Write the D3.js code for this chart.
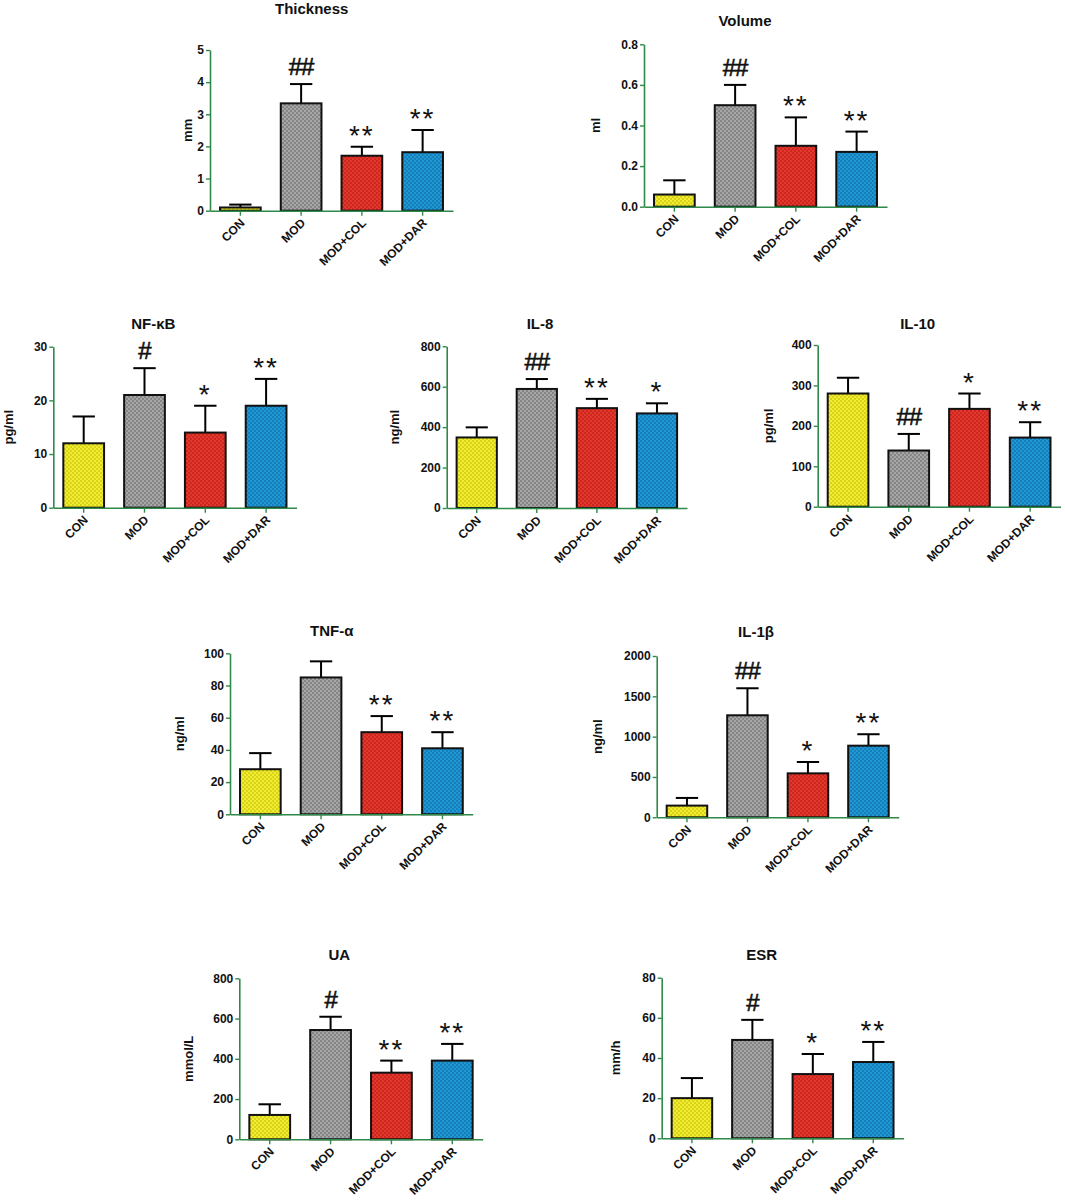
<!DOCTYPE html>
<html>
<head>
<meta charset="utf-8">
<script src="https://cdn.jsdelivr.net/npm/d3@7"></script>
<style>
  html, body { margin: 0; padding: 0; background: #fff; }
  svg { display: block; font-family: "Liberation Sans", Arial, sans-serif; }
</style>
</head>
<body>
<div id="chart"></div>
<script>
// groups shared by every panel
const GROUPS = ['CON', 'MOD', 'MOD+COL', 'MOD+DAR'];

// per-panel data: mean, upper error (mean + SD), significance marks
const thicknessMean = [0.1, 3.34, 1.71, 1.82];
const thicknessErr  = [0.19, 3.94, 1.99, 2.51];
const thicknessSig  = ['', '##', '**', '**'];

const volumeMean = [0.06, 0.50, 0.30, 0.27];
const volumeErr  = [0.13, 0.60, 0.44, 0.37];
const volumeSig  = ['', '##', '**', '**'];

const nfkbMean = [12, 21, 14, 19];
const nfkbErr  = [17, 26, 19, 24];
const nfkbSig  = ['', '#', '*', '**'];

const il8Mean = [349, 589, 494, 468];
const il8Err  = [399, 638, 540, 518];
const il8Sig  = ['', '##', '**', '*'];

const il10Mean = [280, 139, 242, 171];
const il10Err  = [319, 180, 280, 209];
const il10Sig  = ['', '##', '*', '**'];

const tnfMean = [28, 85, 51, 41];
const tnfErr  = [38, 95, 61, 51];
const tnfSig  = ['', '', '**', '**'];

const il1bMean = [145, 1265, 545, 888];
const il1bErr  = [240, 1600, 686, 1030];
const il1bSig  = ['', '##', '*', '**'];

const uaMean = [121, 543, 331, 391];
const uaErr  = [174, 609, 391, 474];
const uaSig  = ['', '#', '**', '**'];

const esrMean = [20, 49, 32, 38];
const esrErr  = [30, 59, 42, 48];
const esrSig  = ['', '#', '*', '**'];

// axis ticks
const thicknessTicks = [0, 1, 2, 3, 4, 5];
const volumeTicks    = [0, 0.2, 0.4, 0.6, 0.8];
const nfkbTicks      = [0, 10, 20, 30];
const il8Ticks       = [0, 200, 400, 600, 800];
const il10Ticks      = [0, 100, 200, 300, 400];
const tnfTicks       = [0, 20, 40, 60, 80, 100];
const il1bTicks      = [0, 500, 1000, 1500, 2000];
const uaTicks        = [0, 200, 400, 600, 800];
const esrTicks       = [0, 20, 40, 60, 80];

const panels = [
  { title: 'Thickness', unit: 'mm',     mean: thicknessMean, err: thicknessErr, sig: thicknessSig, ticks: thicknessTicks, fmt: d3.format('d'),
    box: { left: 210, right: 453, top: 50, base: 210.7, tx: 311.7, ty: 14, lx: 187 } },
  { title: 'Volume',    unit: 'ml',     mean: volumeMean,    err: volumeErr,    sig: volumeSig,    ticks: volumeTicks,    fmt: d3.format('.1f'),
    box: { left: 644, right: 887, top: 44.3, base: 206.7, tx: 745, ty: 26, lx: 595 } },
  { title: 'NF-κB',     unit: 'pg/ml',  mean: nfkbMean,      err: nfkbErr,      sig: nfkbSig,      ticks: nfkbTicks,      fmt: d3.format('d'),
    box: { left: 53.3, right: 296.5, top: 346.7, base: 507.7, tx: 153.3, ty: 329, lx: 8 } },
  { title: 'IL-8',      unit: 'ng/ml',  mean: il8Mean,       err: il8Err,       sig: il8Sig,       ticks: il8Ticks,       fmt: d3.format('d'),
    box: { left: 446.7, right: 687, top: 346.3, base: 508, tx: 540, ty: 329, lx: 394 } },
  { title: 'IL-10',     unit: 'pg/ml',  mean: il10Mean,      err: il10Err,      sig: il10Sig,      ticks: il10Ticks,      fmt: d3.format('d'),
    box: { left: 817.7, right: 1060.5, top: 345, base: 506.7, tx: 917.7, ty: 329, lx: 768 } },
  { title: 'TNF-α',     unit: 'ng/ml',  mean: tnfMean,       err: tnfErr,       sig: tnfSig,       ticks: tnfTicks,       fmt: d3.format('d'),
    box: { left: 230, right: 472.8, top: 653.3, base: 814.3, tx: 331.7, ty: 636, lx: 179 } },
  { title: 'IL-1β',     unit: 'ng/ml',  mean: il1bMean,      err: il1bErr,      sig: il1bSig,      ticks: il1bTicks,      fmt: d3.format('d'),
    box: { left: 656.7, right: 898.7, top: 656, base: 817.3, tx: 756, ty: 637, lx: 597 } },
  { title: 'UA',        unit: 'mmol/L', mean: uaMean,        err: uaErr,        sig: uaSig,        ticks: uaTicks,        fmt: d3.format('d'),
    box: { left: 239.3, right: 482.7, top: 978.3, base: 1139.3, tx: 339.3, ty: 960, lx: 188.3 } },
  { title: 'ESR',       unit: 'mm/h',   mean: esrMean,       err: esrErr,       sig: esrSig,       ticks: esrTicks,       fmt: d3.format('d'),
    box: { left: 661.7, right: 903.5, top: 977.7, base: 1138.3, tx: 761.7, ty: 959.5, lx: 615 } },
];

// bar fills: base colour + darker dot texture
const FILLS = [
  { id: 'pYel', base: '#f3ee2c', dot: '#b5ad10' },
  { id: 'pGry', base: '#a6a6a6', dot: '#5a5a5a' },
  { id: 'pRed', base: '#e6372d', dot: '#a3150f' },
  { id: 'pBlu', base: '#1f98d6', dot: '#0b5d93' },
];
const AXIS_GREEN = '#2f8a49';

const W = 1065, H = 1201;
const svg = d3.select('#chart').append('svg').attr('width', W).attr('height', H);
svg.append('rect').attr('width', W).attr('height', H).attr('fill', '#fff');

const defs = svg.append('defs');
FILLS.forEach(f => {
  const p = defs.append('pattern').attr('id', f.id)
    .attr('patternUnits', 'userSpaceOnUse').attr('width', 4).attr('height', 4);
  p.append('rect').attr('width', 4).attr('height', 4).attr('fill', f.base);
  p.append('circle').attr('cx', 1).attr('cy', 1).attr('r', 0.8).attr('fill', f.dot);
  p.append('circle').attr('cx', 3).attr('cy', 3).attr('r', 0.8).attr('fill', f.dot);
});

panels.forEach(drawPanel);

function drawPanel(pn) {
  const b = pn.box;
  const g = svg.append('g');

  const x = d3.scaleBand().domain(GROUPS).range([b.left, b.right])
    .paddingInner(0.33).paddingOuter(0.165);
  const y = d3.scaleLinear().domain([0, d3.max(pn.ticks)]).range([b.base, b.top]);

  const rows = GROUPS.map((grp, i) => ({ grp, i, mean: pn.mean[i], err: pn.err[i], sig: pn.sig[i] }));

  // error bars (upper only) — drawn first so bar outline sits on top
  const capW = x.bandwidth() * 0.55;
  g.selectAll('line.eb').data(rows).join('line').attr('class', 'eb')
    .attr('x1', d => x(d.grp) + x.bandwidth() / 2).attr('x2', d => x(d.grp) + x.bandwidth() / 2)
    .attr('y1', d => y(d.mean)).attr('y2', d => y(d.err))
    .attr('stroke', '#000').attr('stroke-width', 2);
  g.selectAll('line.cap').data(rows).join('line').attr('class', 'cap')
    .attr('x1', d => x(d.grp) + x.bandwidth() / 2 - capW / 2)
    .attr('x2', d => x(d.grp) + x.bandwidth() / 2 + capW / 2)
    .attr('y1', d => y(d.err)).attr('y2', d => y(d.err))
    .attr('stroke', '#000').attr('stroke-width', 2);

  // bars
  g.selectAll('rect.bar').data(rows).join('rect').attr('class', 'bar')
    .attr('x', d => x(d.grp)).attr('width', x.bandwidth())
    .attr('y', d => y(d.mean)).attr('height', d => b.base - y(d.mean))
    .attr('fill', d => `url(#${FILLS[d.i].id})`)
    .attr('stroke', '#111').attr('stroke-width', 2);

  // axes
  const ay = g.append('g').attr('transform', `translate(${b.left},0)`)
    .call(d3.axisLeft(y).tickValues(pn.ticks).tickFormat(pn.fmt).tickSize(4).tickSizeOuter(0).tickPadding(2));
  const ax = g.append('g').attr('transform', `translate(0,${b.base})`)
    .call(d3.axisBottom(x).tickSize(5).tickSizeOuter(0).tickFormat(''));
  [ay, ax].forEach(a => {
    a.select('.domain').attr('stroke', AXIS_GREEN).attr('stroke-width', 1.6);
    a.selectAll('.tick line').attr('stroke', AXIS_GREEN).attr('stroke-width', 1.4);
  });
  ay.selectAll('.tick text').attr('fill', '#111').style('font-size', '12px').style('font-weight', 'bold');

  // rotated category labels
  g.selectAll('text.cat').data(rows).join('text').attr('class', 'cat')
    .attr('transform', d => `translate(${x(d.grp) + x.bandwidth() / 2 + 5},${b.base + 13}) rotate(-45)`)
    .attr('text-anchor', 'end')
    .attr('fill', '#111').style('font-size', '12px').style('font-weight', 'bold')
    .text(d => d.grp);

  // significance marks
  g.selectAll('text.sig').data(rows.filter(d => d.sig)).join('text').attr('class', 'sig')
    .attr('x', d => x(d.grp) + x.bandwidth() / 2)
    .attr('y', d => d.sig[0] === '#' ? y(d.err) - 9 : y(d.err) - 2)
    .attr('text-anchor', 'middle')
    .attr('fill', '#111')
    .attr('stroke', d => d.sig[0] === '#' ? '#111' : 'none')
    .attr('stroke-width', 0.6)
    .style('font-size', d => d.sig[0] === '#' ? '24px' : '28px')
    .style('letter-spacing', d => d.sig[0] === '#' ? '-1px' : '2px')
    .text(d => d.sig);

  // title
  g.append('text').attr('x', b.tx).attr('y', b.ty).attr('text-anchor', 'middle')
    .attr('fill', '#111').style('font-size', '15px').style('font-weight', 'bold')
    .text(pn.title);

  // y label
  g.append('text')
    .attr('transform', `translate(${b.lx + 5},${(b.top + b.base) / 2}) rotate(-90)`)
    .attr('text-anchor', 'middle')
    .attr('fill', '#111').style('font-size', '13px').style('font-weight', 'bold')
    .text(pn.unit);
}
</script>
</body>
</html>
